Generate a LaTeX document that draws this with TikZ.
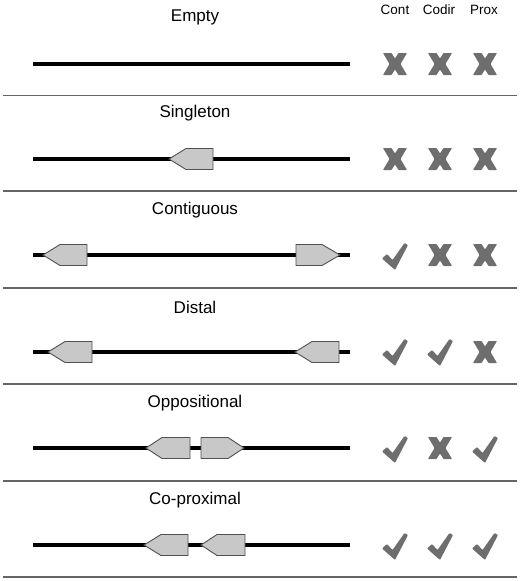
\documentclass[tikz,border=0pt]{standalone}
\usepackage{fontspec}
\setmainfont{Liberation Sans}
\definecolor{markgray}{HTML}{6E6E6E}
\definecolor{genefill}{HTML}{C8C8C8}
\definecolor{geneline}{HTML}{505050}
\definecolor{sepgray}{HTML}{666666}
\newcommand{\geneL}[4]{% tip x, body start, body end, y
  \draw[gene] (#1,#4) -- (#2,#4-10.5) -- (#3,#4-10.5) -- (#3,#4+10.5) -- (#2,#4+10.5) -- cycle;}
\newcommand{\geneR}[4]{% body start, body end, tip x, y
  \draw[gene] (#1,#4-10.5) -- (#2,#4-10.5) -- (#3,#4) -- (#2,#4+10.5) -- (#1,#4+10.5) -- cycle;}
\tikzset{
  gene/.style={fill=genefill,draw=geneline,line width=0.9pt,line join=miter},
  chrom/.style={line width=3.6pt,black},
  sepline/.style={line width=1.4pt,sepgray},
  titletext/.style={font=\fontsize{17}{19}\selectfont,inner sep=0pt},
  headtext/.style={font=\fontsize{13.5}{15}\selectfont,inner sep=0pt},
  pics/xmk/.style={code={\fill[markgray,rounded corners=0.6pt] (-12,-11) -- (-3.5,-11) -- (0,-5.5) -- (3.5,-11) -- (12,-11) -- (5.5,0) -- (12,11) -- (3.5,11) -- (0,5.5) -- (-3.5,11) -- (-12,11) -- (-5.5,0) -- cycle;}},
  pics/cmk/.style={code={\fill[markgray,rounded corners=0.8pt] (-13,2.5) -- (-8,-2) -- (-2.5,4) -- (9.5,-13) -- (13,-11) -- (0,14) -- cycle;}},
}
\begin{document}
\begin{tikzpicture}[x=1pt,y=-1pt]
\useasboundingbox (0,0) rectangle (520,581);
% headers
\node[headtext] (hcont) at (395,10) {Cont};
\node[headtext] (hcodir) at (439,10) {Codir};
\node[headtext] (hprox) at (484,10) {Prox};
% row 0: Empty
\node[titletext] (t0) at (195,17) {Empty};
\draw[chrom] (33,64) -- (350,64);
\pic at (395,64) {xmk}; \pic at (440,64) {xmk}; \pic at (485,64) {xmk};
\draw[sepline] (3,95.5) -- (517,95.5);
% row 1: Singleton
\node[titletext] (t1) at (195,113) {Singleton};
\draw[chrom] (33,159) -- (350,159);
\geneL{169}{186}{213}{159}
\pic at (395,159) {xmk}; \pic at (440,159) {xmk}; \pic at (485,159) {xmk};
\draw[sepline] (3,191) -- (517,191);
% row 2: Contiguous
\node[titletext] (t2) at (195,210) {Contiguous};
\draw[chrom] (33,255) -- (350,255);
\geneL{43}{60}{87}{255}
\geneR{296}{322}{340}{255}
\pic at (395,256) {cmk}; \pic at (440,255) {xmk}; \pic at (485,255) {xmk};
\draw[sepline] (3,288) -- (517,288);
% row 3: Distal
\node[titletext] (t3) at (195,307) {Distal};
\draw[chrom] (33,352) -- (350,352);
\geneL{48}{65}{92}{352}
\geneL{295}{312}{339}{352}
\pic at (395,352) {cmk}; \pic at (440,352) {cmk}; \pic at (485,352) {xmk};
\draw[sepline] (3,384) -- (517,384);
% row 4: Oppositional
\node[titletext] (t4) at (195,403) {Oppositional};
\draw[chrom] (33,448) -- (350,448);
\geneL{146}{162}{190}{448}
\geneR{201}{228}{244}{448}
\pic at (395,449) {cmk}; \pic at (440,448) {xmk}; \pic at (485,449) {cmk};
\draw[sepline] (3,481) -- (517,481);
% row 5: Co-proximal
\node[titletext] (t5) at (195,500) {Co-proximal};
\draw[chrom] (33,545) -- (350,545);
\geneL{144}{161}{188}{545}
\geneL{201}{217}{245}{545}
\pic at (395,546) {cmk}; \pic at (440,546) {cmk}; \pic at (485,546) {cmk};
\draw[sepline] (3,577) -- (517,577);
\end{tikzpicture}
\end{document}
